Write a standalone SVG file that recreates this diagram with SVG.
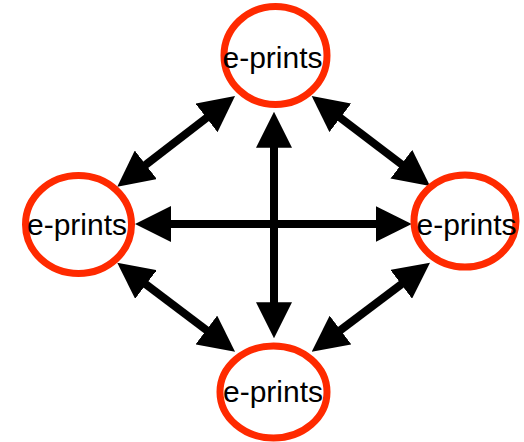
<svg xmlns="http://www.w3.org/2000/svg" width="524" height="442" viewBox="0 0 524 442">
<style>
.node ellipse{fill:#fff;stroke:#ff2a00;stroke-width:7}
.node text{font-family:"Liberation Sans",Arial,sans-serif;font-size:30px;fill:#000;text-anchor:middle}
.edge{stroke:#000;stroke-width:8;fill:none;marker-start:url(#ah);marker-end:url(#ah)}
</style>
<defs>
<marker id="ah" markerUnits="userSpaceOnUse" markerWidth="36" markerHeight="36" refX="16" refY="18" orient="auto-start-reverse" viewBox="0 0 36 36">
<path d="M0,0 L36,18 L0,36 z" fill="#000"/>
</marker>
</defs>
<rect width="524" height="442" fill="#fff"/>
<g id="connectors">
<line class="edge" x1="274" y1="131.7" x2="274" y2="318.3"/>
<line class="edge" x1="155" y1="224" x2="391.7" y2="224"/>
<line class="edge" x1="133.1" y1="174.5" x2="219.2" y2="108.2"/>
<line class="edge" x1="327.6" y1="108.1" x2="414.1" y2="173.9"/>
<line class="edge" x1="133.2" y1="274.8" x2="219.1" y2="339.6"/>
<line class="edge" x1="327.7" y1="339.7" x2="414" y2="274.7"/>
</g>
<g id="node-top" class="node">
<ellipse cx="275.5" cy="55.5" rx="51.5" ry="49"/>
<text x="272.5" y="68">e-prints</text>
</g>
<g id="node-left" class="node">
<ellipse cx="78.5" cy="224.5" rx="53" ry="49"/>
<text x="77" y="235">e-prints</text>
</g>
<g id="node-right" class="node">
<ellipse cx="465" cy="221" rx="51" ry="46"/>
<text x="466.5" y="235">e-prints</text>
</g>
<g id="node-bottom" class="node">
<ellipse cx="273.5" cy="392" rx="53.5" ry="46"/>
<text x="273" y="401.5">e-prints</text>
</g>
</svg>
